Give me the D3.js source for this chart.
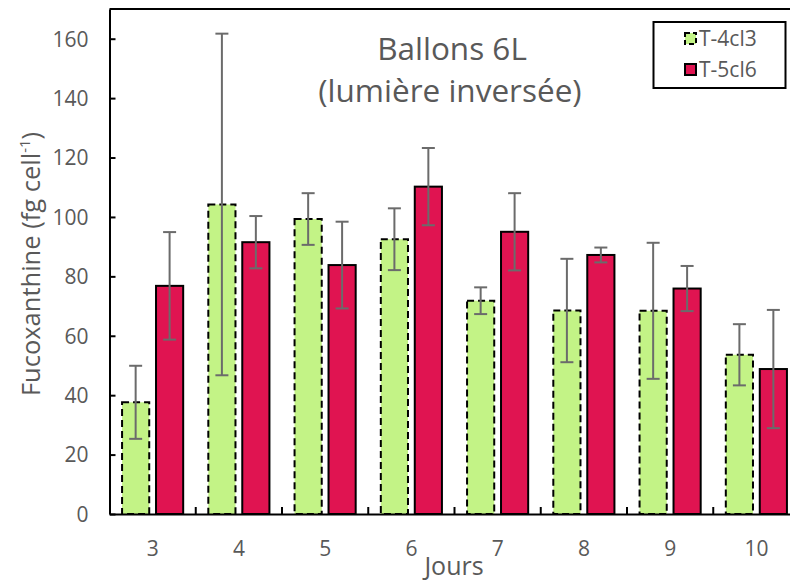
<!DOCTYPE html>
<html>
<head>
<meta charset="utf-8">
<script src="https://cdn.jsdelivr.net/npm/d3@7"></script>
<style>
  html, body { margin: 0; padding: 0; background: #fff; overflow: hidden; }
  text { font-family: "Open Sans", sans-serif; fill: #595959; }
</style>
</head>
<body>
<svg id="chart" width="790" height="583"></svg>
<script>
const days = ["3", "4", "5", "6", "7", "8", "9", "10"];
const seriesNames = ["T-4cl3", "T-5cl6"];
const t4cl3Values = [37.6, 104.2, 99.3, 92.5, 71.8, 68.5, 68.4, 53.6];
const t4cl3Errors = [12.3, 57.5, 8.7, 10.4, 4.5, 17.4, 22.9, 10.3];
const t5cl6Values = [76.8, 91.5, 83.8, 110.2, 95.0, 87.2, 75.9, 48.8];
const t5cl6Errors = [18.1, 8.8, 14.6, 13.0, 13.0, 2.5, 7.6, 19.9];
const yTicks = [0, 20, 40, 60, 80, 100, 120, 140, 160];

const colors = { "T-4cl3": "#c3f386", "T-5cl6": "#e01451" };

const svg = d3.select("#chart");
const pLeft = 109.5, pRight = 799.5, pTop = 9, pBottom = 514;

const x0 = d3.scaleBand().domain(days).range([pLeft, pRight]).paddingInner(0).paddingOuter(0);
const x1 = d3.scaleBand().domain(seriesNames).range([0, x0.bandwidth()]).paddingInner(0.2).paddingOuter(0.37);
const y = d3.scaleLinear().domain([0, 170]).range([pBottom, pTop]);

const data = [];
days.forEach((d, i) => {
  data.push({ day: d, s: "T-4cl3", v: t4cl3Values[i], e: t4cl3Errors[i] });
  data.push({ day: d, s: "T-5cl6", v: t5cl6Values[i], e: t5cl6Errors[i] });
});

// bars
const g = svg.append("g");
g.selectAll("rect.bar").data(data).enter().append("rect")
  .attr("class", "bar")
  .attr("x", d => x0(d.day) + x1(d.s))
  .attr("y", d => y(d.v))
  .attr("width", x1.bandwidth())
  .attr("height", d => y(0) - y(d.v))
  .attr("fill", d => colors[d.s])
  .attr("stroke", "#000")
  .attr("stroke-width", 2)
  .attr("stroke-dasharray", d => d.s === "T-4cl3" ? "7,4" : null);

// error bars
const capW = 13;
const cx = d => x0(d.day) + x1(d.s) + x1.bandwidth() / 2;
const eb = g.selectAll("g.err").data(data).enter().append("g").attr("class", "err")
  .attr("stroke", "#6b6b6b").attr("stroke-width", 2);
eb.append("line")
  .attr("x1", cx).attr("x2", cx)
  .attr("y1", d => y(d.v + d.e))
  .attr("y2", d => y(d.v - d.e));
eb.append("line")
  .attr("x1", d => cx(d) - capW / 2).attr("x2", d => cx(d) + capW / 2)
  .attr("y1", d => y(d.v + d.e)).attr("y2", d => y(d.v + d.e));
eb.append("line")
  .attr("x1", d => cx(d) - capW / 2).attr("x2", d => cx(d) + capW / 2)
  .attr("y1", d => y(d.v - d.e)).attr("y2", d => y(d.v - d.e));

// frame (top + right)
svg.append("line").attr("x1", pLeft).attr("x2", pRight).attr("y1", pTop).attr("y2", pTop)
  .attr("stroke", "#000").attr("stroke-width", 2);
svg.append("line").attr("x1", pRight).attr("x2", pRight).attr("y1", pTop).attr("y2", pBottom)
  .attr("stroke", "#000").attr("stroke-width", 2);

// y axis
const yAxis = d3.axisLeft(y).tickValues(yTicks).tickSizeInner(-6).tickSizeOuter(0).tickPadding(21);
const ya = svg.append("g").attr("transform", `translate(${pLeft},0)`).call(yAxis);
ya.attr("font-family", null).attr("font-size", null);
ya.select(".domain").attr("stroke", "#000").attr("stroke-width", 2);
ya.selectAll(".tick line").attr("stroke", "#000").attr("stroke-width", 2);
ya.selectAll(".tick text").style("font-size", "21px").attr("fill", "#595959").attr("dy", "0.35em");

// x axis: labels centered, ticks at category boundaries
const xAxis = d3.axisBottom(x0).tickSize(0).tickSizeOuter(0);
const xa = svg.append("g").attr("transform", `translate(0,${pBottom})`).call(xAxis);
xa.attr("font-family", null).attr("font-size", null);
xa.select(".domain").attr("stroke", "#000").attr("stroke-width", 2);
xa.selectAll(".tick text").style("font-size", "21px").attr("fill", "#595959")
  .attr("dy", null).attr("y", 42);
xa.selectAll("line.bnd").data(days.slice(1)).enter().append("line").attr("class", "bnd")
  .attr("x1", d => x0(d)).attr("x2", d => x0(d))
  .attr("y1", 0).attr("y2", -7)
  .attr("stroke", "#000").attr("stroke-width", 2);

// axis titles
svg.append("text").attr("x", 454).attr("y", 575).attr("text-anchor", "middle")
  .style("font-size", "25px").text("Jours");
const yl = svg.append("text").attr("transform", "translate(40,264) rotate(-90)")
  .attr("text-anchor", "middle").style("font-size", "25.5px");
yl.append("tspan").text("Fucoxanthine (fg cell");
yl.append("tspan").attr("dy", -10).style("font-size", "15px").text("-1");
yl.append("tspan").attr("dy", 10).text(")");

// chart title
svg.append("text").attr("x", 452).attr("y", 60).attr("text-anchor", "middle")
  .style("font-size", "31.5px").text("Ballons 6L");
svg.append("text").attr("x", 450).attr("y", 102).attr("text-anchor", "middle")
  .style("font-size", "31.5px").text("(lumière inversée)");

// legend
const lg = svg.append("g");
lg.append("rect").attr("x", 653.5).attr("y", 22).attr("width", 132).attr("height", 66)
  .attr("fill", "#fff").attr("stroke", "#000").attr("stroke-width", 2);
seriesNames.forEach((s, i) => {
  const yy = 33 + i * 31;
  lg.append("rect").attr("x", 685).attr("y", yy).attr("width", 11).attr("height", 11)
    .attr("fill", colors[s]).attr("stroke", "#000").attr("stroke-width", 2)
    .attr("stroke-dasharray", s === "T-4cl3" ? "5,3" : null);
  lg.append("text").attr("x", 699).attr("y", yy + 13).style("font-size", "21px").text(s);
});
</script>
</body>
</html>
